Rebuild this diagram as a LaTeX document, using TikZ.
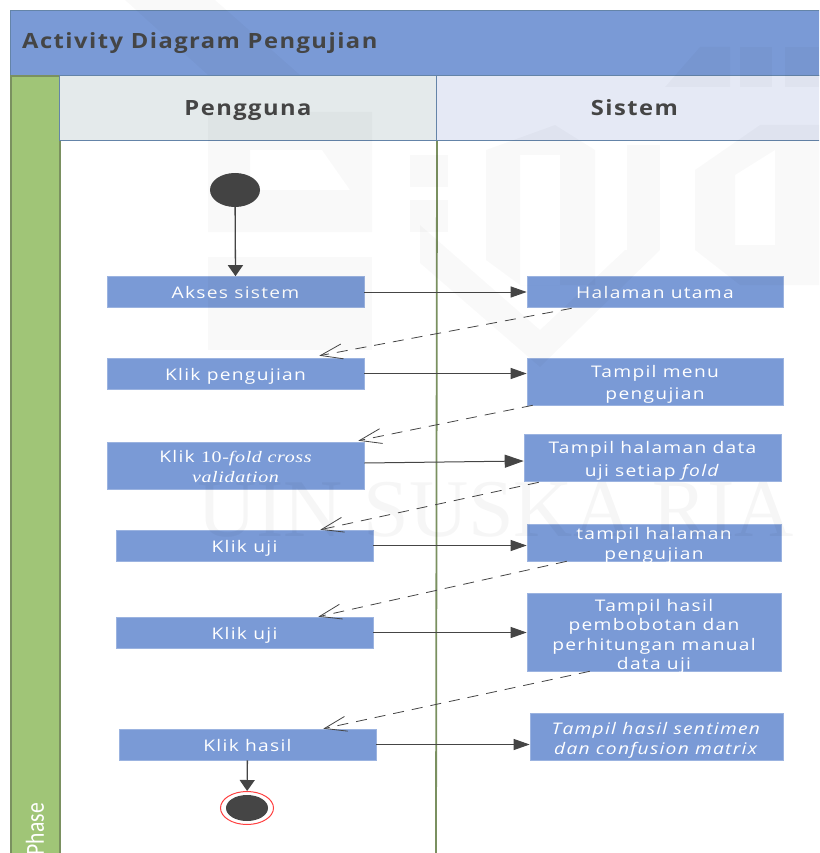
\documentclass[tikz,border=0pt]{standalone}
\usepackage{fontspec}
\setmainfont{Open Sans}
\newfontfamily\boxfont[FakeStretch=1.2,LetterSpace=8]{Open Sans}
\newfontfamily\headfont[FakeStretch=1.13,LetterSpace=7]{Open Sans}
\newfontfamily\serifpart[FakeStretch=1.25,LetterSpace=4]{Liberation Serif}
\newfontfamily\phasefont[FakeStretch=0.83]{Carlito}
\newfontfamily\sealfont{Liberation Serif}
\usetikzlibrary{arrows.meta,positioning,shapes.geometric}
\definecolor{bandblue}{HTML}{7A9AD6}
\definecolor{edgeblue}{HTML}{6484A8}
\definecolor{stripgreen}{HTML}{A0C577}
\definecolor{lanegreen}{HTML}{7A9060}
\definecolor{inkgrey}{HTML}{454545}
\definecolor{userfill}{HTML}{E4EAEB}
\definecolor{sysfill}{HTML}{E5E9F5}
\begin{document}
\begin{tikzpicture}[
	x=1pt,
	y=-1pt,
	node distance=80pt,
	on grid,
	align=center,
	action/.style={
		fill=bandblue,
		draw=bandblue!75!white,
		line width=0.6pt,
		text=white,
		inner sep=0pt,
		minimum width=257pt,
		minimum height=31pt,
		font=\fontsize{16}{20}\boxfont
	},
	single/.style={text height=17pt,text depth=4pt},
	lanehead/.style={
		draw=edgeblue,
		line width=1pt,
		inner sep=0pt,
		minimum height=65pt,
		text height=20pt,
		text depth=5pt,
		text=inkgrey,
		font=\fontsize{21}{24}\headfont\bfseries
	},
	send/.style={-{Triangle[length=16pt,width=11pt]},draw=inkgrey,line width=1pt},
	send big/.style={send,-{Triangle[length=19pt,width=13pt]}},
	drop/.style={-{Triangle[length=11pt,width=15pt]},draw=inkgrey,line width=1.3pt},
	reply/.style={-{Straight Barb[length=22pt,width=15pt]},draw=inkgrey,line width=0.8pt,dash pattern=on 11pt off 8pt},
	mark shape/.style={fill=black,opacity=0.025,even odd rule}
	]

	\useasboundingbox (0,0) rectangle (819,853);
	\clip (0,0) rectangle (819,853);

	% header and lanes
	\node[fill=bandblue,draw=edgeblue,line width=1.2pt,minimum width=829pt,minimum height=65pt,inner sep=0pt,anchor=north west] (title) at (10,10) {};
	\node[text=inkgrey,inner sep=0pt,text height=20pt,text depth=6pt,font=\fontsize{21}{24}\headfont\bfseries,anchor=west] (title_text) at (22,42) {Activity Diagram Pengujian};
	\node[fill=stripgreen,draw=lanegreen,line width=2pt,minimum width=49pt,minimum height=800pt,inner sep=0pt,anchor=north west] (phase) at (10,75) {};
	\node[rotate=90,text=white,inner sep=0pt,font=\fontsize{26}{26}\phasefont,anchor=east] (phase_text) at (35,803) {Phase};
	\node[lanehead,fill=userfill,minimum width=377pt,anchor=north west] (user) at (59,75) {Pengguna};
	\node[lanehead,fill=sysfill,minimum width=396pt,anchor=north west] (sys) at (436,75) {Sistem};
	\coordinate (lane_end) at (436,853);
	\draw[lanegreen,line width=1.8pt] (user.south east) -- (lane_end);

	% start and end
	\node[ellipse,fill=inkgrey,minimum width=50pt,minimum height=34pt,inner sep=0pt] (start) at (235,190) {};
	\node[ellipse,fill=inkgrey,minimum width=42pt,minimum height=26pt,inner sep=0pt] (stop) at (247,808) {};
	\node[ellipse,draw=red!75!white,line width=1pt,minimum width=53pt,minimum height=33pt,inner sep=0pt] (stop_ring) at (247,808) {};

	% pengguna
	\node[action,single] (p_0) at (235.5,292) {Akses sistem};
	\node[action,single,below=81.5pt of p_0] (p_1) {Klik pengujian};
	\node[action,text height=34pt,minimum height=47pt,below=92pt of p_1] (p_2) {Klik {\serifpart 10-\itshape fold cross}\\{\serifpart\itshape validation}};
	\node[action,single] (p_3) at (244.5,545.5) {Klik uji};
	\node[action,single,below=87pt of p_3] (p_4) {Klik uji};
	\node[action,single] (p_5) at (247.5,744.5) {Klik hasil};

	% sistem
	\node[action,single,minimum width=256pt] (s_0) at (655,292) {Halaman utama};
	\node[action,text height=40pt,minimum width=256pt,minimum height=47pt,below=89.5pt of s_0] (s_1) {Tampil menu\\[2pt]pengujian};
	\node[action,text height=41pt,minimum height=47pt] (s_2) at (652.5,457.5) {Tampil halaman data\\[3pt]uji setiap \textit{fold}};
	\node[action,text height=38pt,inner ysep=-3pt,minimum width=254pt,minimum height=37pt] (s_3) at (654,542.5) {tampil halaman\\pengujian};
	\node[action,text height=79pt,inner ysep=-3pt,minimum width=254pt,minimum height=78pt,below=89.5pt of s_3] (s_4) {Tampil hasil\\[-0.5pt]pembobotan dan\\[-0.5pt]perhitungan manual\\[-0.5pt]data uji};
	\node[action,text height=40pt,minimum width=253pt,minimum height=47pt] (s_5) at (656.5,736.5) {\textit{Tampil hasil sentimen}\\\textit{dan confusion matrix}};

	\draw[drop] (start) -- (p_0.north);
	\draw[drop] (p_5) -- (stop_ring);
	\path
		(p_0) edge[send] (s_0)
		(p_1.east) edge[send] (p_1.east -| s_1.west)
		([yshift=2.5pt]p_2.east) edge[send big] ([yshift=-3.5pt]s_2.west)
		(p_3.east) edge[send] (p_3.east -| s_3.west)
		(p_4.east) edge[send] (p_4.east -| s_4.west)
		(p_5.east) edge[send] (p_5.east -| s_5.west);
	\path
		([xshift=45pt,yshift=-0.5pt]s_0.south west) edge[reply] ([xshift=-45pt,yshift=2pt]p_1.north east)
		([xshift=6pt]s_1.south west) edge[reply] ([xshift=-6pt,yshift=1pt]p_2.north east)
		([xshift=15pt,yshift=-1pt]s_2.south west) edge[reply] ([xshift=-53pt]p_3.north east)
		([xshift=40pt]s_3.south west) edge[reply] ([xshift=-55pt]p_4.north east)
		([xshift=63pt]s_4.south west) edge[reply] ([xshift=-53pt]p_5.north east);

	% faint seal over everything
	\fill[mark shape] (125,0) -- (215,0) -- (300,75) -- (208,75) -- cycle;
	\fill[mark shape] (208,112) -- (372,112) -- (372,232) -- (208,232) -- cycle (250,150) -- (322,150) -- (350,190) -- (250,190) -- cycle;
	\fill[mark shape] (410,155) -- (448,155) -- (448,187) -- (410,187) -- cycle;
	\fill[mark shape] (410,200) -- (448,200) -- (448,232) -- (410,232) -- cycle;
	\fill[mark shape] (208,257) -- (372,257) -- (372,350) -- (208,350) -- cycle;
	\fill[mark shape] (420,263) -- (540,367) -- (660,250) -- (625,250) -- (540,330) -- (420,225) -- cycle;
	\fill[mark shape] (486,150) -- (555,125) -- (595,150) -- (595,285) -- (520,285) -- (486,260) -- cycle (520,155) -- (560,155) -- (560,285) -- (520,285) -- cycle;
	\fill[mark shape] (627,145) -- (660,145) -- (660,250) -- (627,250) -- cycle;
	\fill[mark shape] (695,170) -- (760,125) -- (819,125) -- (819,285) -- (740,285) -- (695,250) -- cycle (735,175) -- (775,150) -- (775,245) -- (735,245) -- cycle;
	\fill[mark shape] (740,47) -- (772,47) -- (772,87) -- (740,87) -- cycle;
	\fill[mark shape] (785,47) -- (819,47) -- (819,87) -- (785,87) -- cycle;
	\fill[mark shape] (665,87) -- (700,47) -- (730,47) -- (730,87) -- cycle;
	\node[text=black,opacity=0.035,inner sep=0pt,font=\fontsize{82}{84}\sealfont,anchor=west] (seal_text) at (197,510) {UIN SUSKA RIA};
\end{tikzpicture}
\end{document}
